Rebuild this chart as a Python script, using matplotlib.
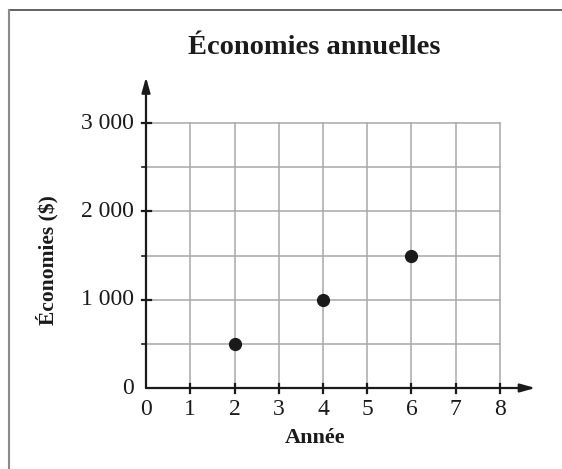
import matplotlib
matplotlib.use("Agg")
import matplotlib.pyplot as plt
from matplotlib.lines import Line2D

# Data
years = [2, 4, 6]
savings = [500, 1000, 1500]
x_ticks = [0, 1, 2, 3, 4, 5, 6, 7, 8]
y_major = [0, 1000, 2000, 3000]
y_major_labels = ["0", "1 000", "2 000", "3 000"]
y_minor = [500, 1500, 2500]
y_grid = [500, 1000, 1500, 2000, 2500, 3000]

W, H = 562, 469
fig = plt.figure(figsize=(W / 100, H / 100), dpi=100)
plt.rcParams['font.family'] = ['Liberation Serif', 'DejaVu Serif']

# axes placement: x=0 at 146px, 44.25 px/unit ; y=0 at 388px from top, 0.08833 px/unit
xpx = 44.25
ypx = 0.08833
xlo, xhi = -0.3, 9.0
ylo, yhi = -300, 3600
left = 146 + xlo * xpx
bottom = (H - 388) + ylo * ypx
ax = fig.add_axes([left / W, bottom / H, (xhi - xlo) * xpx / W, (yhi - ylo) * ypx / H])
ax.set_xlim(xlo, xhi)
ax.set_ylim(ylo, yhi)
ax.axis('off')

gc = '#a8a8a8'
for x in x_ticks[1:]:
    ax.plot([x, x], [0, 3000], color=gc, lw=1.1, zorder=1)
for y in y_grid:
    ax.plot([0, 8], [y, y], color=gc, lw=1.1, zorder=1)

# axes with arrows
ax.annotate('', xy=(8.8, 0), xytext=(0, 0),
            arrowprops=dict(arrowstyle='-|>,head_length=0.9,head_width=0.25', color='#1a1a1a', lw=1.6,
                            shrinkA=0, shrinkB=0), zorder=3)
ax.annotate('', xy=(0, 3520), xytext=(0, 0),
            arrowprops=dict(arrowstyle='-|>,head_length=0.9,head_width=0.25', color='#1a1a1a', lw=1.6,
                            shrinkA=0, shrinkB=0), zorder=3)

tk = 4.5 / xpx
tky = 4.5 / ypx
for x in x_ticks[1:]:
    ax.plot([x, x], [-tky, tky], color='#1a1a1a', lw=1.6, zorder=3)
for y in y_major[1:]:
    ax.plot([-tk, tk], [y, y], color='#1a1a1a', lw=1.6, zorder=3)
for y in y_minor:
    ax.plot([-tk, 0], [y, y], color='#1a1a1a', lw=1.2, zorder=3)

for x in x_ticks:
    ax.text(x, -11 / ypx, str(x), ha='center', va='top', fontsize=17, color='#1a1a1a')
for y, lab in zip(y_major, y_major_labels):
    ax.text(-12 / xpx, y, lab, ha='right', va='center', fontsize=17, color='#1a1a1a')

ax.plot(years, savings, 'o', color='#1a1a1a', markersize=8.5, zorder=4)

fig.text(315 / W, 1 - 438 / H, 'Année', ha='center', va='center', fontsize=16, fontweight='bold', color='#1a1a1a')
fig.text(47 / W, 1 - 260 / H, 'Économies ($)', ha='center', va='center', rotation=90,
         fontsize=15.5, fontweight='bold', color='#1a1a1a')
fig.text(314 / W, 1 - 47 / H, 'Économies annuelles', ha='center', va='center', fontsize=20.5,
         fontweight='bold', color='#1a1a1a')

# partial frame (top and left)
fig.add_artist(Line2D([8.5 / W, 1], [1 - 10 / H, 1 - 10 / H], transform=fig.transFigure, color='#555555', lw=1.3))
fig.add_artist(Line2D([8.5 / W, 8.5 / W], [0, 1 - 10 / H], transform=fig.transFigure, color='#8a8a8a', lw=1.5))

fig.savefig('out.png', dpi=100)
